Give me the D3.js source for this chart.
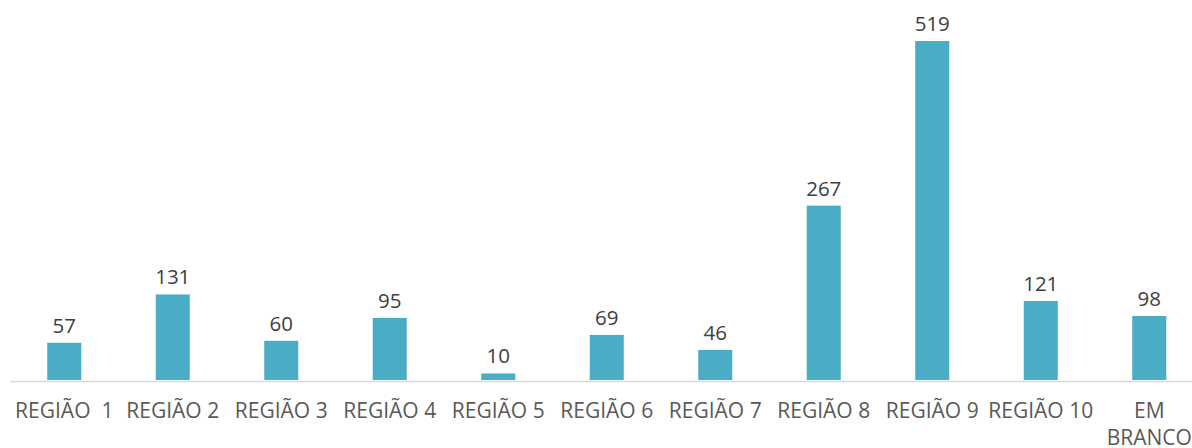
<!DOCTYPE html>
<html><head><meta charset="utf-8">
<script src="https://cdn.jsdelivr.net/npm/d3@7"></script>
<style>body{margin:0;background:#fff;} svg{display:block;} text{font-family:"Open Sans",sans-serif;}</style>
</head><body>
<svg id="c" width="1192" height="448"></svg>
<script>
const categories = ["REGIÃO  1","REGIÃO 2","REGIÃO 3","REGIÃO 4","REGIÃO 5","REGIÃO 6","REGIÃO 7","REGIÃO 8","REGIÃO 9","REGIÃO 10","EM BRANCO"];
const values = [57,131,60,95,10,69,46,267,519,121,98];

const svg = d3.select("#c");
const x0 = 10, band = 108.5;
const x = d3.scaleBand().domain(categories).range([x0, x0 + band*categories.length]).paddingInner(0).paddingOuter(0);
const y = d3.scaleLinear().domain([0, 519]).range([380, 41]);
const bw = 34;

svg.append("line").attr("x1", x0).attr("x2", 1192).attr("y1", 381.5).attr("y2", 381.5)
  .attr("stroke", "#d9d9d9").attr("stroke-width", 1.5);

svg.selectAll("rect.bar").data(values).enter().append("rect")
  .attr("x", (d,i) => x(categories[i]) + x.bandwidth()/2 - bw/2)
  .attr("width", bw)
  .attr("y", d => y(d))
  .attr("height", d => y(0) - y(d))
  .attr("fill", "#4bacc6");

svg.selectAll("text.val").data(values).enter().append("text")
  .attr("x", (d,i) => x(categories[i]) + x.bandwidth()/2)
  .attr("y", d => y(d) - 10)
  .attr("text-anchor", "middle")
  .attr("font-size", 20.5)
  .attr("fill", "#404040")
  .text(d => d);

categories.forEach((c,i) => {
  const cx = x(c) + x.bandwidth()/2;
  const lines = c === "EM BRANCO" ? ["EM","BRANCO"] : [c];
  const t = svg.append("text").attr("text-anchor","middle").attr("font-size",21).attr("fill","#595959")
    .style("white-space","pre");
  lines.forEach((l,j) => t.append("tspan").attr("x", cx).attr("y", 418 + j*27).text(l));
});
</script>
</body></html>
